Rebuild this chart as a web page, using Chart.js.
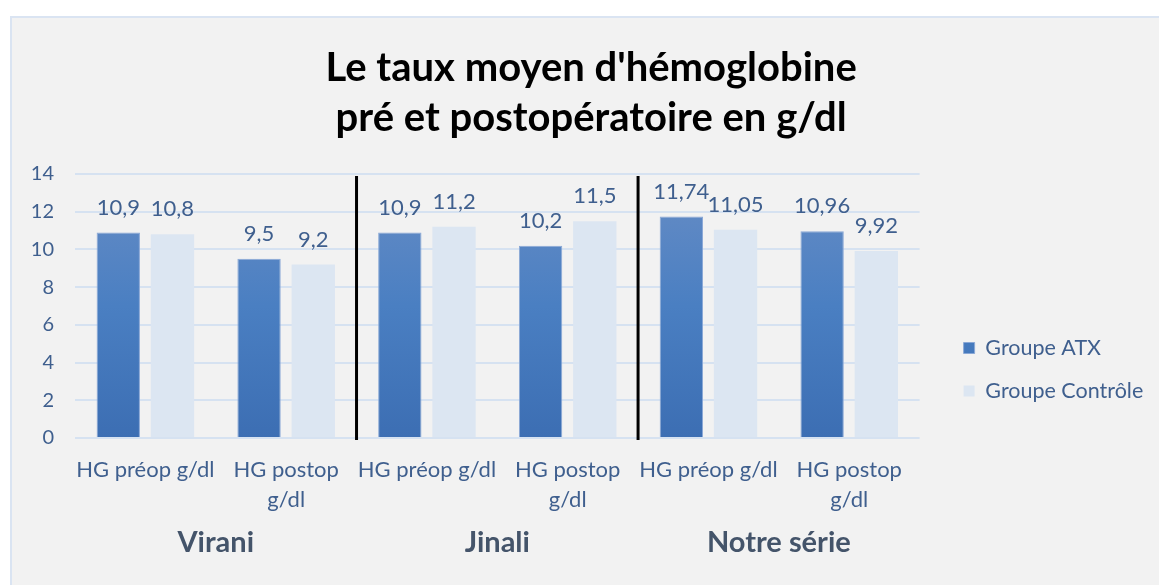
<!DOCTYPE html>
<html>
<head>
<meta charset="utf-8">
<title>Taux moyen d'hémoglobine</title>
<script src="https://cdn.jsdelivr.net/npm/chart.js@4.4.0/dist/chart.umd.min.js"></script>
<style>
  html, body { margin: 0; padding: 0; background: #fff; overflow: hidden; }
  body { width: 1159px; height: 585px; position: relative; }
  #frame { position: absolute; left: 10px; top: 16px; width: 1170px; height: 600px; background: #f2f2f2; border: 2px solid #dae4f2; }
  #wrap { position: absolute; left: 0; top: 0; width: 1184px; height: 585px; }
</style>
</head>
<body>
<div id="frame"></div>
<div id="wrap"><canvas id="hbChart" width="1184" height="585"></canvas></div>
<script>
// categories (x axis), two per study
const categories = [
    ['HG préop g/dl'], ['HG postop', 'g/dl'],
    ['HG préop g/dl'], ['HG postop', 'g/dl'],
    ['HG préop g/dl'], ['HG postop', 'g/dl']
];
const groups = ['Virani', 'Jinali', 'Notre série'];
const seriesNames = ['Groupe ATX', 'Groupe Contrôle'];
const atxValues = [10.9, 9.5, 10.9, 10.2, 11.74, 10.96];
const controlValues = [10.8, 9.2, 11.2, 11.5, 11.05, 9.92];
const yTicks = [0, 2, 4, 6, 8, 10, 12, 14];

const textBlue = '#3f5f8e';
const fontFamily = 'Lato, "Open Sans", sans-serif';

// gradient for the ATX bars, darker at the bottom
const atxFill = (context) => {
    const area = context.chart.chartArea;
    if (!area) {
        return '#4676b9';
    }
    const g = context.chart.ctx.createLinearGradient(0, area.bottom, 0, area.top);
    g.addColorStop(0, '#3c6eb3');
    g.addColorStop(0.5, '#4a7fc2');
    g.addColorStop(1, '#688dc5');
    return g;
};

// black separators between studies + study names under the axis
const groupPlugin = {
    id: 'groupPlugin',
    afterDraw(chart) {
        const ctx = chart.ctx;
        const x = chart.scales.x;
        const area = chart.chartArea;
        ctx.save();
        ctx.strokeStyle = '#000';
        ctx.lineWidth = 3;
        for (let g = 1; g < groups.length; g++) {
            const sx = (x.getPixelForTick(g * 2 - 1) + x.getPixelForTick(g * 2)) / 2;
            ctx.beginPath();
            ctx.moveTo(sx, area.top + 2);
            ctx.lineTo(sx, area.bottom + 2);
            ctx.stroke();
        }
        ctx.fillStyle = '#44546a';
        ctx.font = 'bold 29px ' + fontFamily;
        ctx.textAlign = 'center';
        ctx.textBaseline = 'middle';
        groups.forEach((name, g) => {
            const cx = (x.getPixelForTick(g * 2) + x.getPixelForTick(g * 2 + 1)) / 2;
            ctx.fillText(name, cx, area.bottom + 105);
        });
        ctx.restore();
    }
};

// value labels above each bar, comma as decimal separator
const valueLabels = {
    id: 'valueLabels',
    afterDatasetsDraw(chart) {
        const ctx = chart.ctx;
        ctx.save();
        ctx.fillStyle = textBlue;
        ctx.font = '22px ' + fontFamily;
        ctx.textAlign = 'center';
        ctx.textBaseline = 'middle';
        chart.data.datasets.forEach((ds, i) => {
            chart.getDatasetMeta(i).data.forEach((bar, j) => {
                const txt = String(ds.data[j]).replace('.', ',');
                ctx.fillText(txt, bar.x, bar.y - 25);
            });
        });
        ctx.restore();
    }
};

new Chart(document.getElementById('hbChart'), {
    type: 'bar',
    data: {
        labels: categories,
        datasets: [{
            label: seriesNames[0],
            data: atxValues,
            backgroundColor: atxFill,
            borderColor: '#8aa8d6',
            borderWidth: 1,
            categoryPercentage: 0.77,
            barPercentage: 0.8
        }, {
            label: seriesNames[1],
            data: controlValues,
            backgroundColor: '#dce6f2',
            borderWidth: 0,
            categoryPercentage: 0.77,
            barPercentage: 0.8
        }]
    },
    options: {
        responsive: false,
        animation: false,
        layout: { padding: { top: 0, left: 29, right: 30.75, bottom: 53 } },
        scales: {
            x: {
                grid: { display: false, drawTicks: false },
                border: { display: false },
                ticks: {
                    color: textBlue,
                    font: { family: fontFamily, size: 22, lineHeight: '30px' },
                    padding: 17,
                    maxRotation: 0,
                    autoSkip: false
                }
            },
            y: {
                min: yTicks[0],
                max: yTicks[yTicks.length - 1],
                grid: { color: '#d6e2f1', lineWidth: 2, drawTicks: false },
                border: { display: false },
                ticks: {
                    stepSize: yTicks[1] - yTicks[0],
                    color: textBlue,
                    font: { family: fontFamily, size: 20 },
                    padding: 21
                },
                afterFit: (s) => { s.width = 46; }
            },
            // hidden axis, only keeps a gap between plot and legend
            gap: {
                position: 'right',
                display: false,
                afterFit: (s) => { s.width = 22.5; }
            }
        },
        plugins: {
            title: {
                display: true,
                text: ["Le taux moyen d'hémoglobine", 'pré et postopératoire en g/dl'],
                color: '#000',
                font: { family: fontFamily, size: 40, weight: 'bold', lineHeight: '50px' },
                padding: { top: 43, bottom: 31 }
            },
            legend: {
                position: 'right',
                title: { display: true, text: '', padding: { top: 0, bottom: 192.6 } },
                labels: {
                    color: textBlue,
                    font: { family: fontFamily, size: 21.5 },
                    boxWidth: 11,
                    boxHeight: 11,
                    padding: 21.5
                }
            },
            tooltip: { enabled: false }
        }
    },
    plugins: [groupPlugin, valueLabels]
});
</script>
</body>
</html>
